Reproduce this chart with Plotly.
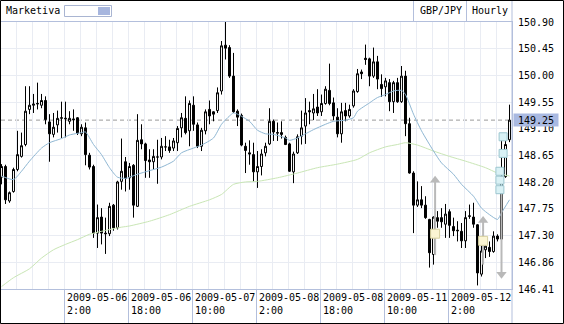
import numpy as np
import pandas as pd
import plotly.graph_objects as go

# ---------------- data ----------------
times = [t for t in pd.date_range("2009-05-05 10:00", "2009-05-12 17:00", freq="h") if t.dayofweek < 5]

open_ = [148.29,148.47,147.89,148.05,148.42,148.64,148.84,149.43,149.50,149.52,149.50,149.58,149.22,149.01,149.17,149.28,
         149.27,149.23,149.27,149.29,149.02,149.12,148.66,148.47,147.35,147.62,147.35,147.34,147.82,147.44,148.22,148.55,
         148.28,148.49,147.80,148.92,148.85,148.58,148.55,148.63,148.63,148.80,148.80,148.78,148.87,149.12,149.28,149.07,
         149.50,149.17,148.81,149.07,149.43,149.39,149.41,149.74,150.51,150.47,149.99,149.40,149.33,148.81,148.70,148.67,
         148.38,148.47,148.70,148.85,149.23,149.03,149.04,148.96,148.85,148.38,148.70,148.98,149.15,149.41,149.37,149.47,
         149.39,149.53,149.75,149.54,149.30,149.02,149.41,149.32,149.49,149.73,150.06,150.29,150.28,149.99,150.23,149.85,
         149.81,149.88,149.56,149.88,149.56,149.99,149.19,148.36,147.82,147.91,147.82,147.58,146.99,147.61,147.61,147.50,
         147.71,147.46,147.40,147.38,147.22,147.63,147.62,147.49,146.66,147.07,147.11,147.04,147.30,147.25,148.30,148.92]
high = [148.51,148.50,148.05,148.45,149.07,149.04,149.82,149.82,149.69,149.88,149.69,149.65,149.35,149.37,149.41,149.56,
        149.56,149.40,149.43,149.30,149.18,149.21,148.70,148.50,147.83,147.77,147.61,147.86,147.84,148.23,148.94,148.63,
        148.53,148.51,149.35,149.18,148.87,148.76,148.76,148.92,148.95,148.98,148.92,148.95,149.15,149.37,149.65,149.58,
        149.65,149.21,149.12,149.43,149.58,149.40,149.80,150.58,150.92,150.51,150.38,149.43,149.36,148.87,148.91,148.87,
        148.73,148.76,148.87,149.45,149.26,149.21,149.23,148.99,148.87,148.72,149.01,149.41,149.62,149.56,149.69,149.77,
        149.68,149.82,150.20,149.63,149.45,149.54,149.54,149.51,149.77,150.11,150.10,150.52,150.30,150.47,150.33,150.02,
        149.96,149.94,149.91,149.96,150.16,150.08,149.29,148.39,148.22,148.14,147.97,147.59,147.63,147.72,147.77,147.84,
        147.75,147.61,147.55,147.52,147.72,147.83,147.86,147.50,147.14,147.16,147.21,147.38,147.33,148.95,148.90,149.51]
low = [148.17,147.84,147.86,148.03,148.39,148.62,148.81,149.35,149.37,149.43,149.45,149.18,148.55,148.96,149.04,148.95,
       148.96,149.18,149.07,149.00,148.98,148.49,148.42,147.27,147.10,147.16,147.00,147.30,147.39,147.41,148.08,148.05,
       148.08,147.61,147.79,148.76,148.28,148.28,148.42,148.18,148.59,148.73,148.70,148.73,148.73,148.96,149.01,148.81,
       149.07,148.78,148.73,149.01,149.18,149.23,149.37,149.68,150.27,149.96,149.37,149.15,148.81,148.36,148.50,148.21,
       148.11,148.32,148.64,148.83,148.90,148.90,148.94,148.83,148.38,148.19,148.68,148.84,148.85,149.18,149.25,149.32,
       149.32,149.51,149.50,149.25,148.96,148.87,149.23,149.29,149.46,149.71,149.94,150.18,149.82,149.96,149.77,149.64,
       149.65,149.40,149.37,149.54,149.54,148.98,148.35,147.35,147.79,147.77,147.59,146.77,146.82,147.44,147.44,147.27,
       147.27,147.30,147.21,147.10,147.10,147.59,147.44,146.47,146.62,146.93,146.95,147.02,147.21,147.22,148.28,148.88]
close = [148.47,147.91,148.03,148.42,148.67,148.82,149.40,149.50,149.52,149.53,149.58,149.26,149.02,149.13,149.28,149.29,
         149.28,149.28,149.26,149.03,149.13,148.67,148.46,147.35,147.61,147.35,147.34,147.80,147.44,148.21,148.39,148.27,
         148.47,147.82,148.91,148.85,148.57,148.55,148.64,148.63,148.81,148.80,148.74,148.90,149.11,149.29,149.04,149.53,
         149.18,148.81,149.08,149.39,149.32,149.35,149.71,150.50,150.46,149.99,149.39,149.30,148.83,148.74,148.68,148.38,
         148.47,148.68,148.81,149.23,149.05,149.04,149.01,148.84,148.39,148.68,148.97,149.12,149.37,149.39,149.44,149.37,
         149.53,149.77,149.53,149.32,149.02,149.39,149.32,149.43,149.74,150.03,150.03,150.27,149.99,150.23,149.94,149.78,
         149.91,149.56,149.88,149.56,149.99,149.19,148.36,147.82,147.91,147.82,147.61,147.02,147.62,147.55,147.54,147.67,
         147.48,147.39,147.39,147.22,147.61,147.64,147.50,146.68,147.05,147.13,147.04,147.30,147.25,148.30,148.84,149.25]

# moving-average overlays (bar index, price)
ma_fast_idx = [0,3,5,7,10,12,15,17,20,21,23,25,27,29,31,32,34,37,40,43,45,48,50,53,55,57,58,59,62,64,66,68,71,72,74,76,
               78,81,83,86,88,89,92,94,96,98,100,101,103,105,108,110,113,115,118,120,122,124,125,127]
ma_fast = [148.31,148.25,148.39,148.56,148.78,148.87,148.94,149.00,149.04,149.05,148.84,148.67,148.45,148.29,148.27,148.29,
           148.34,148.40,148.46,148.56,148.70,148.78,148.83,148.95,149.18,149.32,149.37,149.35,149.23,149.08,149.02,149.01,
           148.95,148.91,148.95,149.02,149.09,149.18,149.23,149.25,149.29,149.40,149.54,149.63,149.68,149.74,149.75,149.68,
           149.35,149.07,148.73,148.53,148.34,148.17,147.97,147.77,147.66,147.58,147.69,147.91]
ma_slow_idx = [0,3,7,10,13,16,19,22,25,27,30,32,37,42,47,52,55,58,61,64,69,74,79,84,89,92,96,99,101,104,108,112,116,121,124,127]
ma_slow = [146.45,146.60,146.75,146.93,147.07,147.16,147.24,147.33,147.38,147.41,147.45,147.47,147.55,147.66,147.80,147.91,
           148.00,148.17,148.21,148.22,148.28,148.36,148.45,148.51,148.59,148.70,148.80,148.84,148.87,148.83,148.73,148.64,
           148.56,148.45,148.36,148.31]

# trade markers
buy_x = [108.4, 120.4]
buy_lo = [146.98, 146.82]
buy_hi = [148.24, 147.56]
buy_box = [147.34, 147.22]
sell_x = [125.0]
sell_hi = [148.13]
sell_lo = [146.66]
order_x = [125.4, 125.4, 124.6, 124.6, 124.6]
order_y = [148.97, 148.69, 148.39, 148.24, 148.08]

ytick_vals = list(np.linspace(146.41, 150.90, 11))
ytick_text = ["146.41","146.86","147.30","147.75","148.20","148.65","149.10","149.55","150.00","150.45","150.90"]
xtick_idx = [16, 32, 48, 64, 80, 96, 112]

symbol = "GBP/JPY"
period = "Hourly"
brand = "Marketiva"

# ---------------- figure ----------------
W, H = 564, 324
ML, MR, MT, MB = 1, 52, 22, 35
PW, PH = W - ML - MR, H - MT - MB
def px(x):  # pixel -> paper x
    return (x - ML) / PW
def py(y):  # pixel -> paper y
    return (H - MB - y) / PH

FONT = "DejaVu Sans Mono"
xs = list(range(len(times)))

fig = go.Figure()
fig.add_trace(go.Scatter(x=ma_slow_idx, y=ma_slow, mode="lines", line=dict(color="#c9e6b5", width=1, shape="spline", smoothing=0.6), hoverinfo="skip"))
fig.add_trace(go.Scatter(x=ma_fast_idx, y=ma_fast, mode="lines", line=dict(color="#8fb7d3", width=1, shape="spline", smoothing=0.6), hoverinfo="skip"))
fig.add_trace(go.Candlestick(
    x=xs, open=open_, high=high, low=low, close=close,
    increasing=dict(line=dict(color="#000000", width=1), fillcolor="#ffffff"),
    decreasing=dict(line=dict(color="#000000", width=1), fillcolor="#000000"),
    whiskerwidth=0, hoverinfo="skip"))

# buy arrows
for x, lo, hi in zip(buy_x, buy_lo, buy_hi):
    fig.add_trace(go.Scatter(x=[x, x], y=[lo, hi], mode="lines", line=dict(color="#b9b9b9", width=2), hoverinfo="skip"))
fig.add_trace(go.Scatter(x=buy_x, y=buy_hi, mode="markers", marker=dict(symbol="triangle-up", size=9, color="#b9b9b9"), hoverinfo="skip"))
fig.add_trace(go.Scatter(x=buy_x, y=buy_box, mode="markers", marker=dict(symbol="square", size=9, color="#fbf5d3", line=dict(color="#d6cf9e", width=1)), hoverinfo="skip"))
for x, lo, hi in zip(sell_x, sell_lo, sell_hi):
    fig.add_trace(go.Scatter(x=[x, x], y=[lo, hi], mode="lines", line=dict(color="#b9b9b9", width=2), hoverinfo="skip"))
fig.add_trace(go.Scatter(x=sell_x, y=sell_lo, mode="markers", marker=dict(symbol="triangle-down", size=9, color="#b9b9b9"), hoverinfo="skip"))
fig.add_trace(go.Scatter(x=order_x, y=order_y, mode="markers", marker=dict(symbol="square", size=8, color="#d9f1f5", line=dict(color="#9cc6cf", width=1)), hoverinfo="skip"))

grid = "#e9ecf3"
axis_c = "#b3bfdc"
fig.update_layout(
    width=W, height=H, margin=dict(l=ML, r=MR, t=MT, b=MB),
    paper_bgcolor="white", plot_bgcolor="white", showlegend=False,
    font=dict(family=FONT, size=10, color="#000"),
    xaxis=dict(type="linear", range=[-0.125, 127.625], rangeslider=dict(visible=False),
               tickmode="array", tickvals=[i - 0.375 for i in xtick_idx], showticklabels=False,
               ticks="outside", ticklen=34, tickcolor=axis_c, tickwidth=1,
               showgrid=True, gridcolor=grid, gridwidth=1,
               minor=dict(tick0=-0.375, dtick=4, showgrid=True, gridcolor=grid, ticks=""),
               showline=True, linecolor=axis_c, linewidth=1, mirror=True, zeroline=False, fixedrange=True),
    yaxis=dict(side="right", range=[146.41, 150.90], tickmode="array", tickvals=ytick_vals, ticktext=ytick_text,
               showgrid=True, gridcolor=grid, ticks="", showline=True, linecolor=axis_c, linewidth=1,
               ticklabelstandoff=3,
               zeroline=False, tickfont=dict(family=FONT, size=10, color="#000"), fixedrange=True),
)

ann = []
for i in xtick_idx:
    t = times[i]
    ann.append(dict(x=i - 0.375, xref="x", y=py(290), yref="paper", xanchor="left", yanchor="top", xshift=1,
                    text=f"{t:%Y-%m-%d}<br>{t.hour}:00", align="left", showarrow=False,
                    font=dict(family=FONT, size=10, color="#000")))
ann.append(dict(x=1, xref="paper", y=close[-1], yref="y", xanchor="left", yanchor="middle", xshift=1,
                text=f"{close[-1]:.2f}", showarrow=False, bgcolor="#a9b9e1", width=42, height=10, borderpad=1,
                align="center", font=dict(family=FONT, size=10, color="#000")))
ann.append(dict(x=px(4), xref="paper", y=py(11), yref="paper", xanchor="left", yanchor="middle",
                text=brand, showarrow=False, font=dict(family=FONT, size=10, color="#000")))
ann.append(dict(x=px(418), xref="paper", y=py(11), yref="paper", xanchor="left", yanchor="middle",
                text=symbol, showarrow=False, font=dict(family=FONT, size=10, color="#000")))
ann.append(dict(x=px(470), xref="paper", y=py(11), yref="paper", xanchor="left", yanchor="middle",
                text=period, showarrow=False, font=dict(family=FONT, size=10, color="#000")))
fig.update_layout(annotations=ann)

shapes = [
    dict(type="line", xref="paper", yref="y", x0=0, x1=1, y0=close[-1], y1=close[-1],
         line=dict(color="#9a9a9a", width=1, dash="4px,3px"), layer="below"),
    dict(type="line", xref="paper", yref="paper", x0=1, x1=1, y0=py(323), y1=py(0), line=dict(color=axis_c, width=1)),
    dict(type="line", xref="paper", yref="paper", x0=px(413.5), x1=px(413.5), y0=py(1), y1=py(21), line=dict(color=axis_c, width=1)),
    dict(type="line", xref="paper", yref="paper", x0=px(466.5), x1=px(466.5), y0=py(1), y1=py(21), line=dict(color=axis_c, width=1)),
    dict(type="rect", xref="paper", yref="paper", x0=px(64.5), x1=px(111.5), y0=py(16.5), y1=py(5.5),
         line=dict(color="#a9b5d2", width=1), fillcolor="white"),
    dict(type="rect", xref="paper", yref="paper", x0=px(98), x1=px(110), y0=py(15), y1=py(7),
         line=dict(width=0), fillcolor="#a7b6de"),
    dict(type="rect", xref="paper", yref="paper", x0=px(0.5), x1=px(563.5), y0=py(323.5), y1=py(0.5),
         line=dict(color="#000000", width=1)),
]
fig.update_layout(shapes=shapes)

fig.write_html("out.html")
